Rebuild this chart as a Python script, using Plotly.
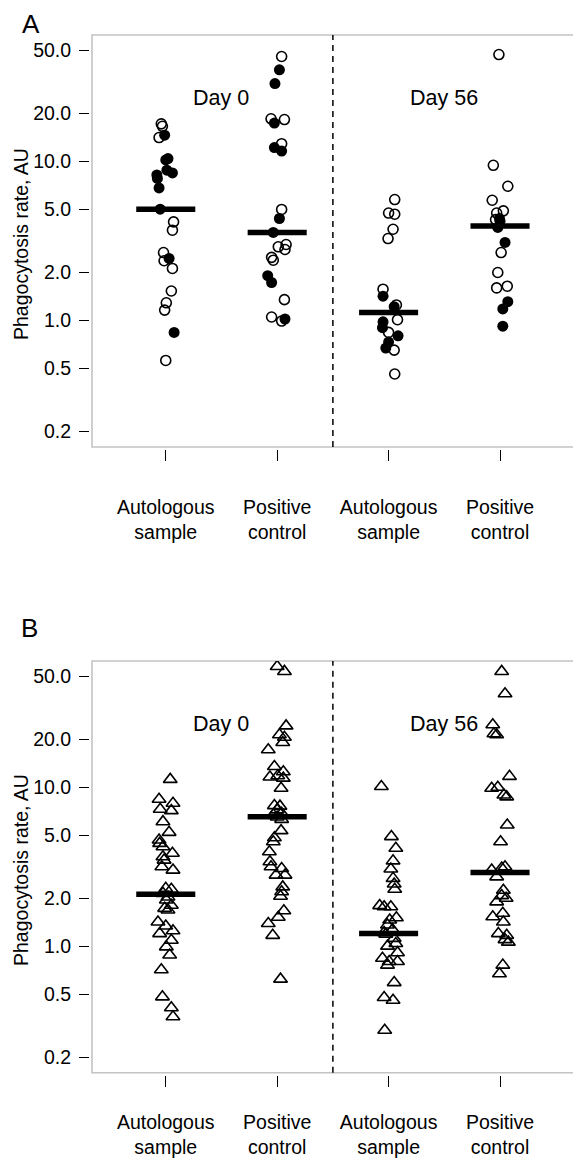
import plotly.graph_objects as go

# ---------------- data ----------------
categories = ["Autologous<br>sample", "Positive<br>control", "Autologous<br>sample", "Positive<br>control"]
y_tick_vals = [0.2, 0.5, 1, 2, 5, 10, 20, 50]
y_tick_labels = ["0.2", "0.5", "1.0", "2.0", "5.0", "10.0", "20.0", "50.0"]
day_labels = ["Day 0", "Day 56"]
panel_labels = ["A", "B"]
y_title = "Phagocytosis rate, AU"

# Panel A (circles; 1 = filled, 0 = open), jitter = horizontal offset
a_auto_d0 = [17.2, 16.6, 14.6, 14.1, 10.4, 10.2, 8.8, 8.45, 8.2, 7.8, 6.8, 5.0, 4.16, 3.69, 2.67, 2.37, 2.45, 2.12, 1.53, 1.29, 1.16, 0.84, 0.56]
a_auto_d0_fill = [0, 0, 1, 0, 1, 1, 1, 1, 1, 1, 1, 1, 0, 0, 0, 0, 1, 0, 0, 0, 0, 1, 0]
a_auto_d0_jit = [-0.04, -0.03, -0.01, -0.06, 0.02, 0.0, 0.01, 0.06, -0.08, -0.075, -0.06, -0.05, 0.07, 0.06, -0.02, -0.015, 0.03, 0.06, 0.05, 0.005, -0.01, 0.075, 0.0]

a_pos_d0 = [45.6, 37.6, 30.8, 18.5, 18.3, 17.4, 12.9, 12.2, 11.6, 4.98, 4.37, 3.57, 3.0, 2.9, 2.79, 2.49, 2.39, 1.91, 1.73, 1.35, 1.05, 0.99, 1.02]
a_pos_d0_fill = [0, 1, 1, 0, 0, 1, 0, 1, 1, 0, 1, 1, 0, 0, 0, 0, 0, 1, 1, 0, 0, 0, 1]
a_pos_d0_jit = [0.04, 0.02, -0.02, -0.055, 0.065, -0.025, 0.04, -0.025, 0.04, 0.04, 0.02, -0.035, 0.08, 0.01, 0.07, -0.05, -0.035, -0.085, -0.05, 0.065, -0.05, 0.04, 0.07]

a_auto_d56 = [5.75, 4.73, 4.65, 3.74, 3.27, 1.57, 1.42, 1.25, 1.22, 1.01, 0.98, 0.90, 0.84, 0.80, 0.73, 0.67, 0.65, 0.46]
a_auto_d56_fill = [0, 0, 0, 0, 0, 0, 1, 0, 1, 0, 1, 1, 0, 1, 1, 1, 0, 0]
a_auto_d56_jit = [0.055, 0.0, 0.055, 0.04, -0.005, -0.05, -0.05, 0.07, 0.05, 0.08, -0.05, -0.055, 0.0, 0.085, 0.0, -0.025, 0.05, 0.055]

a_pos_d56 = [46.9, 9.44, 6.97, 5.69, 4.88, 4.73, 4.30, 4.37, 4.20, 3.84, 3.09, 2.67, 2.0, 1.60, 1.64, 1.31, 1.18, 0.92]
a_pos_d56_fill = [0, 0, 0, 0, 0, 0, 0, 1, 1, 1, 1, 0, 0, 0, 0, 1, 1, 1]
a_pos_d56_jit = [-0.01, -0.06, 0.07, -0.07, 0.03, -0.03, -0.04, -0.005, 0.0, -0.02, 0.045, 0.01, -0.02, -0.03, 0.065, 0.07, 0.025, 0.025]

a_medians = [5.0, 3.57, 1.12, 3.92]

# Panel B (triangles)
b_auto_d0 = [11.2, 8.4, 7.93, 7.26, 7.12, 6.07, 5.2, 4.65, 4.43, 4.22, 3.84, 3.65, 3.48, 3.16, 3.01, 2.31, 2.28, 2.15, 2.04, 1.95, 1.81, 1.73, 1.69, 1.42, 1.34, 1.20, 1.25, 1.09, 0.99, 0.88, 0.71, 0.48, 0.41, 0.36]
b_auto_d0_jit = [0.04, -0.06, 0.065, -0.05, 0.05, -0.025, 0.03, -0.06, -0.055, -0.025, 0.06, -0.025, -0.015, -0.035, 0.065, 0.0, 0.05, -0.025, 0.02, 0.005, 0.05, -0.01, 0.02, -0.07, 0.0, -0.055, 0.065, 0.05, 0.005, 0.035, -0.04, -0.03, 0.05, 0.065]

b_pos_d0 = [57.5, 53.5, 24.3, 21.4, 20.6, 19.1, 17.2, 13.5, 12.5, 11.6, 11.8, 11.4, 9.86, 7.66, 7.6, 7.2, 6.85, 6.7, 6.5, 6.28, 5.33, 4.81, 4.54, 3.93, 3.4, 3.16, 3.08, 2.8, 2.8, 2.36, 2.2, 2.06, 1.67, 1.52, 1.39, 1.17, 0.62]
b_pos_d0_jit = [0.0, 0.065, 0.08, 0.02, 0.065, 0.05, -0.08, -0.025, 0.055, -0.065, 0.005, 0.055, 0.035, -0.025, 0.025, 0.0, 0.04, -0.035, 0.0, 0.04, 0.035, -0.025, -0.035, -0.07, -0.065, -0.055, 0.04, -0.01, 0.07, 0.05, 0.04, 0.03, 0.06, 0.01, -0.08, -0.04, 0.03]

b_auto_d56 = [10.1, 4.89, 4.13, 3.44, 3.06, 2.67, 2.46, 2.28, 1.80, 1.77, 1.77, 1.51, 1.46, 1.36, 1.27, 1.22, 1.19, 1.12, 1.04, 1.0, 0.91, 0.84, 0.80, 0.80, 0.76, 0.59, 0.475, 0.457, 0.296]
b_auto_d56_jit = [-0.065, 0.025, 0.065, 0.04, 0.02, 0.04, 0.05, 0.055, -0.08, -0.04, 0.02, 0.07, 0.01, -0.01, 0.035, -0.04, -0.025, 0.05, 0.065, -0.01, 0.08, -0.055, 0.005, 0.08, -0.01, 0.05, -0.04, 0.04, -0.035]

b_pos_d56 = [53.5, 38.7, 24.7, 21.7, 21.4, 11.7, 9.86, 10.0, 8.94, 8.7, 5.78, 4.54, 3.16, 3.01, 2.73, 3.1, 2.25, 2.0, 1.90, 2.08, 1.61, 1.53, 1.42, 1.20, 1.17, 1.06, 1.10, 0.76, 0.67]
b_pos_d56_jit = [0.015, 0.045, -0.065, -0.055, -0.03, 0.085, -0.075, -0.02, 0.035, 0.06, 0.065, 0.005, 0.045, -0.075, -0.03, 0.015, 0.03, 0.055, -0.03, 0.015, 0.025, -0.065, 0.03, -0.015, 0.06, 0.075, 0.045, 0.025, -0.005]

b_medians = [2.12, 6.53, 1.20, 2.91]

# ---------------- figure ----------------
OFF = 8  # page body margin in the browser
W, H = 581 - OFF, 1160 - OFF
FONT = "Liberation Sans, Arial, Helvetica, sans-serif"


def px(x):
    return (x - OFF) / W


def py(y):
    return 1 - (y - OFF) / H


fig = go.Figure()

a_groups = [(a_auto_d0, a_auto_d0_fill, a_auto_d0_jit),
            (a_pos_d0, a_pos_d0_fill, a_pos_d0_jit),
            (a_auto_d56, a_auto_d56_fill, a_auto_d56_jit),
            (a_pos_d56, a_pos_d56_fill, a_pos_d56_jit)]
b_groups = [(b_auto_d0, b_auto_d0_jit), (b_pos_d0, b_pos_d0_jit),
            (b_auto_d56, b_auto_d56_jit), (b_pos_d56, b_pos_d56_jit)]

half = 0.265
for i, m in enumerate(a_medians):
    g = i + 1
    fig.add_trace(go.Scatter(x=[g - half, g + half], y=[m, m], mode="lines",
                             line=dict(color="black", width=5.5), xaxis="x", yaxis="y",
                             hoverinfo="skip"))
for i, m in enumerate(b_medians):
    g = i + 1
    fig.add_trace(go.Scatter(x=[g - half, g + half], y=[m, m], mode="lines",
                             line=dict(color="black", width=5.5), xaxis="x2", yaxis="y2",
                             hoverinfo="skip"))

for i, (vals, fills, jit) in enumerate(a_groups):
    g = i + 1
    xo = [g + j for v, f, j in zip(vals, fills, jit) if f == 0]
    yo = [v for v, f in zip(vals, fills) if f == 0]
    xf = [g + j for v, f, j in zip(vals, fills, jit) if f == 1]
    yf = [v for v, f in zip(vals, fills) if f == 1]
    fig.add_trace(go.Scatter(x=xo, y=yo, mode="markers", xaxis="x", yaxis="y",
                             marker=dict(symbol="circle-open", size=10, color="black",
                                         line=dict(width=1.6, color="black"))))
    fig.add_trace(go.Scatter(x=xf, y=yf, mode="markers", xaxis="x", yaxis="y",
                             marker=dict(symbol="circle", size=11, color="black",
                                         line=dict(width=0))))

for i, (vals, jit) in enumerate(b_groups):
    g = i + 1
    fig.add_trace(go.Scatter(x=[g + j for j in jit], y=vals, mode="markers", xaxis="x2", yaxis="y2",
                             marker=dict(symbol="triangle-up-open", size=12, color="black",
                                         line=dict(width=1.6, color="black"))))

x_dom = [px(92), px(574)]
yA_dom = [py(447), py(35)]
yB_dom = [py(1072.7), py(661)]
x_range = [0.338, 4.664]
y_range = [-0.796, 1.794]


def xaxis_cfg(pos, standoff):
    return dict(domain=x_dom, range=x_range, tickmode="array", tickvals=[1, 2, 3, 4],
                ticktext=categories, ticks="outside", ticklen=11, tickwidth=1.4, tickcolor="black",
                showline=False, showgrid=False, zeroline=False, anchor="free", position=pos,
                automargin=False,
                ticklabelstandoff=standoff, tickfont=dict(family=FONT, size=19.5, color="black"))


def yaxis_cfg(dom):
    return dict(domain=dom, type="log", range=y_range, tickmode="array", tickvals=y_tick_vals,
                ticktext=y_tick_labels, ticks="outside", ticklen=10, tickwidth=1.4, tickcolor="black",
                showline=False, showgrid=False, zeroline=False, anchor="free", position=px(89),
                automargin=False,
                ticklabelstandoff=4, tickfont=dict(family=FONT, size=19.5, color="black"))


fig.update_layout(
    width=W, height=H, margin=dict(l=0, r=0, t=0, b=0, autoexpand=False),
    paper_bgcolor="white", plot_bgcolor="white", showlegend=False,
    xaxis=xaxis_cfg(py(448.5), 30), yaxis=yaxis_cfg(yA_dom),
    xaxis2=xaxis_cfg(py(1074.5), 19), yaxis2=yaxis_cfg(yB_dom),
)

shapes = []
for xr, yr in [("x", "y"), ("x2", "y2")]:
    shapes.append(dict(type="rect", xref=xr + " domain", yref=yr + " domain", x0=0, x1=1, y0=0, y1=1,
                       line=dict(color="#c4c4c4", width=1.6), layer="below"))
    shapes.append(dict(type="line", xref=xr, yref=yr + " domain", x0=2.5, x1=2.5, y0=0, y1=1,
                       line=dict(color="black", width=1.5, dash="6px,5px")))
fig.update_layout(shapes=shapes)

annotations = []
# panel letters: A anchored at top of the figure so it is not clipped
annotations.append(dict(text=panel_labels[0], xref="paper", yref="paper", x=px(31), y=1.0,
                        xanchor="center", yanchor="top", showarrow=False, borderpad=0,
                        font=dict(family=FONT, size=26, color="black")))
annotations.append(dict(text=panel_labels[1], xref="paper", yref="paper", x=px(29), y=py(628),
                        xanchor="center", yanchor="middle", showarrow=False,
                        font=dict(family=FONT, size=26, color="black")))
for xr, yr, ty in [("x", "y", 244), ("x2", "y2", 870)]:
    annotations.append(dict(text=y_title, xref="paper", yref="paper", x=px(21), y=py(ty),
                            xanchor="center", yanchor="middle", textangle=-90, showarrow=False,
                            borderpad=0,
                            font=dict(family=FONT, size=19.5, color="black")))
    for xpos, dl in zip([1.5, 3.5], day_labels):
        annotations.append(dict(text=dl, xref=xr, yref=yr, x=xpos, y=1.4,
                                xanchor="center", yanchor="middle", showarrow=False,
                                font=dict(family=FONT, size=21.5, color="black")))
fig.update_layout(annotations=annotations)

fig.write_html("out.html")
